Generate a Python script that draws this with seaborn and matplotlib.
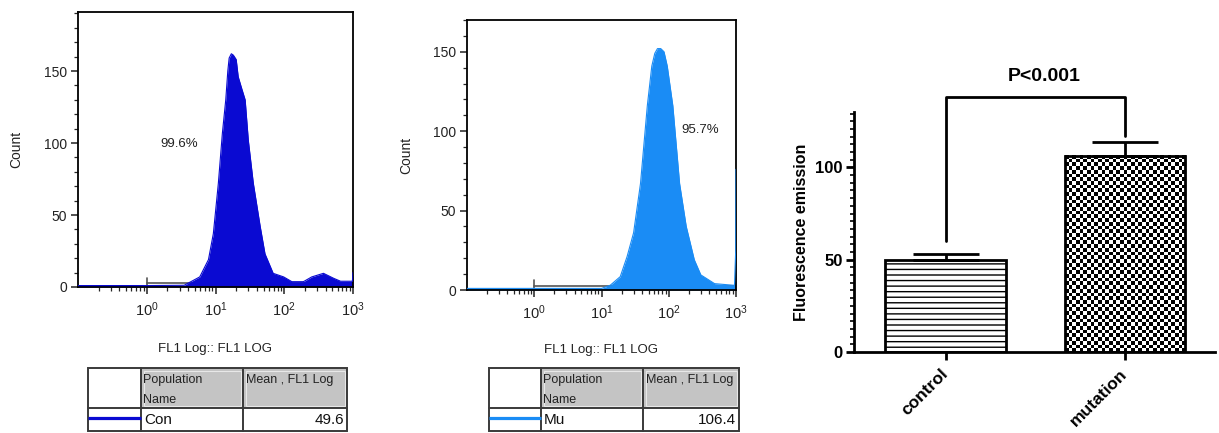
import numpy as np
import matplotlib
matplotlib.use("Agg")
import matplotlib.pyplot as plt
import matplotlib.ticker as mticker
from matplotlib.patches import Rectangle
import seaborn as sns

# flow cytometry histograms (FL1 intensity vs cell count)
con_fl = [0.1, 1.0, 3.5, 5.9, 7.9, 9.3, 11.0, 12.6, 14.1, 15.1, 15.8, 17.0, 18.2, 20.0, 21.4,
          24.0, 27.0, 30.0, 35.5, 44.7, 52.5, 69.0, 98.0, 129.0, 190.0, 251.0,
          372.0, 525.0, 660.0, 980.0, 1000.0]
con_count = [1, 1, 1.2, 7, 19, 37, 72, 107, 130, 150, 159, 162, 161, 158, 146,
             138, 130, 102, 72, 42, 23, 9.5, 7, 3.7, 3.7, 7,
             9.5, 6, 4, 4, 10]
mu_fl = [0.1, 1.0, 10.0, 13.5, 19.0, 24.0, 30.0, 38.0, 48.0, 56.0, 62.0, 68.0, 76.0, 85.0,
         95.0, 115.0, 145.0, 182.0, 240.0, 300.0, 480.0, 910.0, 950.0, 990.0, 1000.0]
mu_count = [1, 1, 1, 3, 8.4, 21, 36, 67, 116, 141, 149, 152, 152, 150,
            141, 116, 67, 40, 19, 9.5, 4, 3, 3, 25, 76]
gate_pct = ["99.6%", "95.7%"]
pop_names = ["Con", "Mu"]

# bar chart
groups = ["control", "mutation"]
means = [49.6, 106.4]
sems = [3.6, 7.4]
p_text = "P<0.001"

sns.set_style("ticks")
plt.rcParams["font.family"] = ["Liberation Sans", "DejaVu Sans"]
plt.rcParams["mathtext.default"] = "regular"

W, H = 1219, 433
fig = plt.figure(figsize=(W / 100, H / 100), dpi=100)


def flow_panel(ax, fl, count, color, ymax, pct, pct_xy):
    # gate marker
    ax.plot([1, 1000], [2.5, 2.5], color="#555555", lw=1.2, zorder=1)
    ax.plot([1, 1], [0.6, 6.5], color="#555555", lw=1.2, zorder=1)
    ax.fill_between(fl, count, color=color, lw=0, zorder=2)
    sns.lineplot(x=fl, y=count, ax=ax, color=color, lw=0.8, estimator=None, zorder=3)
    ax.set_xscale("log")
    ax.set_xlim(0.1, 1000)
    ax.set_ylim(0, ymax)
    ax.xaxis.set_minor_locator(mticker.LogLocator(base=10, subs=np.arange(2, 10), numticks=20))
    ax.xaxis.set_minor_formatter(mticker.NullFormatter())
    ax.set_xticks([1, 10, 100, 1000])
    ax.yaxis.set_major_locator(mticker.MultipleLocator(50))
    ax.yaxis.set_minor_locator(mticker.MultipleLocator(10))
    ax.tick_params(which="major", length=5, width=1.1, labelsize=10, colors="#222222", pad=3)
    ax.tick_params(axis="x", which="major", labelsize=10.5, pad=5)
    ax.tick_params(which="minor", length=3, width=0.9)
    for s in ax.spines.values():
        s.set_linewidth(1.3)
        s.set_color("black")
    ax.set_ylabel("Count", fontsize=10, color="#222222")
    ax.set_xlabel("FL1 Log:: FL1 LOG", fontsize=9.5, color="#222222")
    ax.text(pct_xy[0], pct_xy[1], pct, fontsize=9.5, ha="center", va="center", color="#222222")


ax1 = fig.add_axes([78 / W, 1 - 287 / H, 275 / W, 275 / H])
flow_panel(ax1, con_fl, con_count, "#0a0ad2", 191, gate_pct[0], (3.0, 99))
ax1.yaxis.set_label_coords(-0.2, 0.5)
ax1.xaxis.set_label_coords(0.5, -0.205)

ax2 = fig.add_axes([467 / W, 1 - 290 / H, 269 / W, 270 / H])
flow_panel(ax2, mu_fl, mu_count, "#1a8cf5", 170, gate_pct[1], (295, 101))
ax2.yaxis.set_label_coords(-0.2, 0.5)
ax2.xaxis.set_label_coords(0.5, -0.2)

# summary tables under the histograms
tab = fig.add_axes([0, 0, 1, 1])
tab.set_xlim(0, W)
tab.set_ylim(H, 0)
tab.axis("off")


def draw_table(left, c1, c2, right, name, value, color):
    top, mid, bottom = 368, 408, 431
    for x0, x1 in [(c1, c2), (c2, right)]:
        tab.add_patch(Rectangle((x0, top), x1 - x0, mid - top, facecolor="#c4c4c4", edgecolor="none"))
        tab.add_patch(Rectangle((x0 + 2.5, top + 2.5), x1 - x0 - 5, mid - top - 5,
                                facecolor="none", edgecolor="#e8e8e8", lw=0.8))
    tab.add_patch(Rectangle((left, top), right - left, bottom - top, fill=False,
                            edgecolor="#3a3a3a", lw=1.4))
    tab.plot([left, right], [mid, mid], color="#3a3a3a", lw=1.4)
    for x in (c1, c2):
        tab.plot([x, x], [top, bottom], color="#3a3a3a", lw=1.4)
    tab.plot([left, c1], [418, 418], color=color, lw=2.3, solid_capstyle="butt")
    tab.text(c1 + 2, 380, "Population", fontsize=9, va="center", color="#222222")
    tab.text(c1 + 2, 400, "Name", fontsize=9, va="center", color="#222222")
    tab.text(c2 + 3, 380, "Mean , FL1 Log", fontsize=9, va="center", color="#222222")
    tab.text(c1 + 3, 420, name, fontsize=11, va="center", color="#111111")
    tab.text(right - 3, 420, value, fontsize=11, va="center", ha="right", color="#111111")


draw_table(88, 141, 243, 347, pop_names[0], f"{means[0]}", "#0a0ad2")
draw_table(489, 541, 643, 739, pop_names[1], f"{means[1]}", "#1a8cf5")

# bar chart
ax3 = fig.add_axes([854 / W, 1 - 352 / H, 361 / W, 240 / H])
sns.barplot(x=groups, y=means, ax=ax3, width=0.67, color="white",
            edgecolor="black", linewidth=2, errorbar=None, zorder=2)
ax3.set_xlim(-0.51, 1.5)
ax3.set_ylim(0, 130)

ctrl, mut = ax3.patches[0], ax3.patches[1]
ctrl.set_facecolor("white")
ctrl.set_hatch("---")
ctrl.set_edgecolor("black")

# checkerboard fill for the mutation bar
bb = mut.get_window_extent()
nx = int(round(bb.width / 3.7))
ny = int(round(bb.height / 3.7))
checker = np.add.outer(np.arange(ny), np.arange(nx)) % 2
x0, y0 = mut.get_x(), mut.get_y()
ax3.imshow(checker, cmap="gray", extent=(x0, x0 + mut.get_width(), y0, y0 + mut.get_height()),
           aspect="auto", interpolation="nearest", zorder=1.5)
mut.set_facecolor("none")
ax3.set_xlim(-0.51, 1.5)
ax3.set_ylim(0, 130)

ax3.errorbar(x=[0, 1], y=means, yerr=[[0, 0], sems], fmt="none", ecolor="black",
             elinewidth=2, capsize=24, capthick=2, zorder=3)

bracket_top = 138
ax3.plot([0, 0, 1, 1],
         [means[0] + sems[0] + 7, bracket_top, bracket_top, means[1] + sems[1] + 3],
         color="black", lw=2, clip_on=False, zorder=3)
ax3.text(0.55, 149, p_text, fontsize=14, fontweight="bold", ha="center", va="center",
         color="black")

sns.despine(ax=ax3)
ax3.spines["left"].set_linewidth(2)
ax3.spines["bottom"].set_linewidth(2)
ax3.spines["left"].set_color("black")
ax3.spines["bottom"].set_color("black")
ax3.yaxis.set_major_locator(mticker.FixedLocator([0, 50, 100]))
ax3.yaxis.set_minor_locator(mticker.MultipleLocator(50 / 12))
ax3.tick_params(axis="both", which="both", colors="black")
ax3.tick_params(axis="y", which="major", length=6, width=2, labelsize=12, pad=2)
ax3.tick_params(axis="y", which="minor", length=3, width=1.2)
ax3.tick_params(axis="x", which="major", length=6, width=2, pad=8)
ax3.set_xticks([0, 1])
ax3.set_xticklabels(groups, rotation=45, ha="right", va="center", rotation_mode="anchor",
                    fontsize=12.5, fontweight="bold", color="black")
for lab in ax3.get_yticklabels():
    lab.set_fontweight("bold")
ax3.set_ylabel("Fluorescence emission", fontsize=11.5, fontweight="bold", color="black")
ax3.yaxis.set_label_coords(-0.125, 0.5)

fig.savefig("out.png", dpi=100)
